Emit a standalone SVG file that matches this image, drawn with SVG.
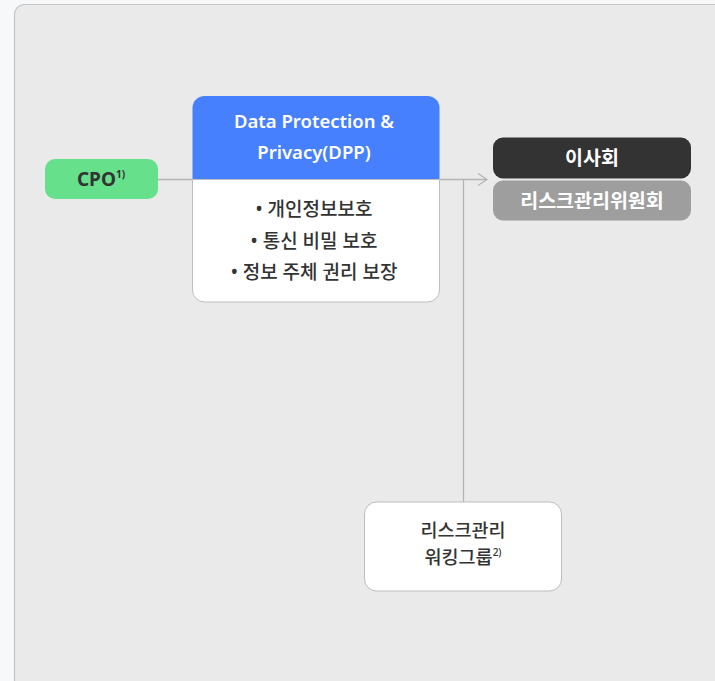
<svg xmlns="http://www.w3.org/2000/svg" width="715" height="681" viewBox="0 0 715 681">
<defs>
<style>
text{font-family:"Noto Sans","Noto Sans CJK KR",sans-serif;text-anchor:middle;}
.dark{fill:#333333;}
.white{fill:#ffffff;}
.b{font-weight:700;}
.m{font-weight:500;}
.sb{font-weight:600;}
.conn{stroke:#b4b4b4;stroke-width:1.3;fill:none;}
</style>
<marker id="arr" markerWidth="14" markerHeight="14" refX="11" refY="7" orient="auto" markerUnits="userSpaceOnUse">
<path d="M2,1 L11,7 L2,13" fill="none" stroke="#b4b4b4" stroke-width="1.2"/>
</marker>
</defs>
<rect x="0" y="0" width="715" height="681" fill="#f7f8fa"/>
<rect x="14.5" y="4.5" width="710" height="685" rx="10" fill="#e9eae9" stroke="#c4c4c4" stroke-width="1.2"/>
<g id="connectors">
<line class="conn" x1="158" y1="179.5" x2="192" y2="179.5"/>
<line class="conn" x1="440" y1="179.5" x2="487" y2="179.5" marker-end="url(#arr)"/>
<line class="conn" x1="463.5" y1="179.5" x2="463.5" y2="502"/>
</g>
<g id="cpo">
<rect x="45" y="159" width="113" height="40" rx="10" fill="#66e08a"/>
<text x="101" y="186" class="dark b" font-size="19">CPO<tspan font-size="10" dy="-8">1)</tspan></text>
</g>
<g id="dpp">
<path d="M192.5,179.5 V108 A12,12 0 0 1 204.5,96 H427.5 A12,12 0 0 1 439.5,108 V179.5 Z" fill="#4680ff"/>
<path d="M192.5,179.5 H439.5 V290 A12,12 0 0 1 427.5,302 H204.5 A12,12 0 0 1 192.5,290 Z" fill="#ffffff" stroke="#bdbdbd" stroke-width="1"/>
<text x="314" y="128" class="white sb" font-size="18.5">Data Protection &amp;</text>
<text x="314" y="159" class="white sb" font-size="18.5">Privacy(DPP)</text>
<text x="314" y="216" class="dark m" font-size="19">• 개인정보보호</text>
<text x="314" y="248" class="dark m" font-size="19">• 통신 비밀 보호</text>
<text x="314" y="279" class="dark m" font-size="19">• 정보 주체 권리 보장</text>
</g>
<g id="board">
<rect x="493" y="137.5" width="198" height="41" rx="10" fill="#333333"/>
<text x="592" y="165" class="white b" font-size="19.5">이사회</text>
</g>
<g id="risk-committee">
<rect x="493" y="180.5" width="198" height="40" rx="10" fill="#9e9e9e"/>
<text x="592" y="207.5" class="white b" font-size="19.5">리스크관리위원회</text>
</g>
<g id="working-group">
<rect x="364.5" y="502" width="197" height="89" rx="12" fill="#ffffff" stroke="#bdbdbd" stroke-width="1"/>
<text x="463" y="537" class="dark m" font-size="18.5">리스크관리</text>
<text x="463" y="564" class="dark m" font-size="18.5">워킹그룹<tspan font-size="10" dy="-8">2)</tspan></text>
</g>
</svg>
